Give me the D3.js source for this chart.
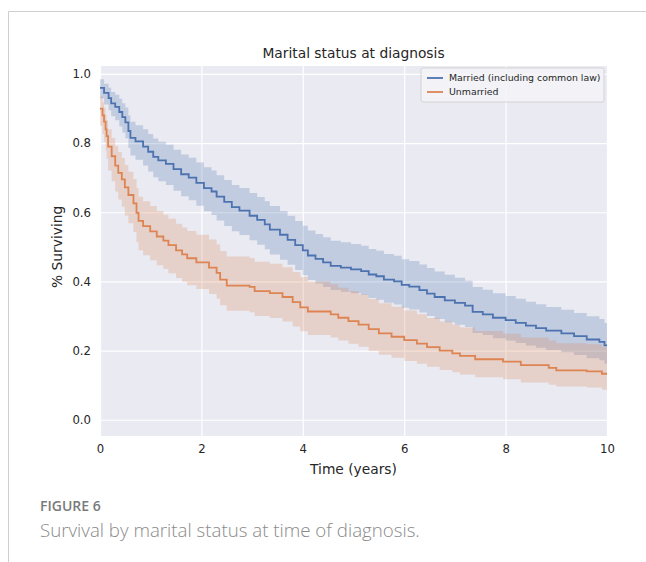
<!DOCTYPE html>
<html>
<head>
<meta charset="utf-8">
<script src="https://cdn.jsdelivr.net/npm/d3@7"></script>
<style>
  body { margin: 0; background: #fff; }
  svg { display: block; }
</style>
</head>
<body>
<div id="chart"></div>
<script>
// Kaplan-Meier step data
// =================================
var seriesNames = ["Married (including common law)", "Unmarried"];

var marriedTime = [0.00, 0.08, 0.17, 0.22, 0.30, 0.38, 0.44, 0.50, 0.56, 0.60, 0.70, 0.85, 0.95, 1.05, 1.15, 1.30, 1.45, 1.60, 1.75, 1.90,
  2.05, 2.20, 2.30, 2.45, 2.60, 2.75, 2.95, 3.10, 3.25, 3.35, 3.55, 3.70, 3.85, 4.00, 4.10, 4.25, 4.40, 4.55, 4.75, 4.95,
  5.15, 5.30, 5.45, 5.60, 5.80, 5.95, 6.10, 6.30, 6.45, 6.60, 6.80, 7.00, 7.20, 7.35, 7.55, 7.75, 8.00, 8.20, 8.40, 8.60,
  8.80, 9.10, 9.35, 9.60, 9.85, 9.95];
var marriedSurv = [0.960, 0.945, 0.930, 0.915, 0.905, 0.890, 0.875, 0.860, 0.835, 0.815, 0.805, 0.790, 0.775, 0.760, 0.750, 0.740, 0.725, 0.710, 0.700, 0.685,
  0.670, 0.660, 0.645, 0.630, 0.615, 0.605, 0.590, 0.578, 0.565, 0.550, 0.535, 0.520, 0.505, 0.490, 0.475, 0.465, 0.455, 0.445, 0.440, 0.435,
  0.430, 0.420, 0.415, 0.405, 0.400, 0.390, 0.385, 0.375, 0.365, 0.355, 0.345, 0.338, 0.330, 0.312, 0.305, 0.295, 0.288, 0.280, 0.272, 0.265,
  0.258, 0.250, 0.242, 0.232, 0.225, 0.215];
var marriedLow = [0.930, 0.912, 0.895, 0.878, 0.866, 0.848, 0.831, 0.814, 0.786, 0.764, 0.752, 0.735, 0.718, 0.701, 0.690, 0.679, 0.662, 0.646, 0.635, 0.619,
  0.603, 0.592, 0.576, 0.560, 0.545, 0.534, 0.519, 0.506, 0.493, 0.478, 0.463, 0.448, 0.433, 0.418, 0.404, 0.394, 0.384, 0.375, 0.370, 0.366,
  0.361, 0.352, 0.347, 0.338, 0.333, 0.324, 0.319, 0.310, 0.300, 0.291, 0.282, 0.275, 0.268, 0.251, 0.245, 0.236, 0.229, 0.222, 0.215, 0.208,
  0.202, 0.195, 0.187, 0.178, 0.172, 0.163];
var marriedHigh = [0.985, 0.972, 0.960, 0.948, 0.940, 0.928, 0.915, 0.903, 0.880, 0.862, 0.852, 0.840, 0.826, 0.813, 0.804, 0.795, 0.781, 0.767, 0.758, 0.744,
  0.730, 0.721, 0.707, 0.693, 0.679, 0.670, 0.656, 0.644, 0.632, 0.618, 0.604, 0.590, 0.575, 0.561, 0.547, 0.537, 0.528, 0.518, 0.513, 0.508,
  0.503, 0.494, 0.489, 0.479, 0.474, 0.464, 0.459, 0.449, 0.439, 0.429, 0.419, 0.411, 0.402, 0.384, 0.376, 0.366, 0.358, 0.350, 0.341, 0.334,
  0.326, 0.318, 0.309, 0.299, 0.291, 0.280];

var unmarriedTime = [0.00, 0.05, 0.08, 0.11, 0.13, 0.16, 0.23, 0.30, 0.36, 0.43, 0.49, 0.56, 0.66, 0.72, 0.76, 0.85, 0.99, 1.12, 1.25, 1.35,
  1.50, 1.62, 1.72, 1.90, 2.15, 2.30, 2.37, 2.50, 2.95, 3.05, 3.35, 3.60, 3.80, 3.95, 4.10, 4.55, 4.70, 4.90, 5.10, 5.30,
  5.50, 5.75, 6.00, 6.25, 6.45, 6.70, 6.95, 7.10, 7.40, 7.95, 8.30, 8.85, 9.00, 9.60, 9.90];
var unmarriedSurv = [0.900, 0.880, 0.862, 0.840, 0.820, 0.790, 0.762, 0.735, 0.714, 0.695, 0.672, 0.650, 0.626, 0.598, 0.575, 0.560, 0.545, 0.530, 0.518, 0.505,
  0.490, 0.478, 0.467, 0.455, 0.440, 0.425, 0.405, 0.388, 0.384, 0.372, 0.366, 0.355, 0.340, 0.325, 0.313, 0.305, 0.295, 0.285, 0.275, 0.262,
  0.250, 0.240, 0.230, 0.220, 0.210, 0.200, 0.192, 0.185, 0.175, 0.168, 0.158, 0.150, 0.143, 0.140, 0.133];
var unmarriedLow = [0.850, 0.826, 0.804, 0.778, 0.755, 0.721, 0.690, 0.660, 0.637, 0.616, 0.591, 0.568, 0.543, 0.513, 0.490, 0.476, 0.461, 0.447, 0.436, 0.424,
  0.410, 0.399, 0.389, 0.378, 0.364, 0.350, 0.331, 0.315, 0.311, 0.300, 0.294, 0.284, 0.270, 0.256, 0.245, 0.238, 0.229, 0.220, 0.211, 0.199,
  0.188, 0.179, 0.170, 0.162, 0.153, 0.144, 0.137, 0.131, 0.123, 0.117, 0.108, 0.101, 0.096, 0.093, 0.087];
var unmarriedHigh = [0.935, 0.918, 0.902, 0.883, 0.866, 0.840, 0.815, 0.792, 0.774, 0.757, 0.737, 0.717, 0.696, 0.670, 0.645, 0.632, 0.618, 0.604, 0.593, 0.581,
  0.567, 0.556, 0.546, 0.535, 0.521, 0.507, 0.488, 0.472, 0.468, 0.457, 0.451, 0.441, 0.427, 0.413, 0.400, 0.392, 0.382, 0.372, 0.362, 0.349,
  0.337, 0.327, 0.316, 0.305, 0.294, 0.284, 0.275, 0.267, 0.257, 0.249, 0.238, 0.229, 0.221, 0.218, 0.210];

var xTicks = [0, 2, 4, 6, 8, 10];
var yTicks = [0.0, 0.2, 0.4, 0.6, 0.8, 1.0];
var colors = ["#4c72b0", "#dd8452"];

var svgWidth = 646;
var svgHeight = 562;

var margin = { top: 66, left: 100 };
var width = 507;
var height = 370;

var svg = d3.select("#chart")
  .append("svg")
  .attr("width", svgWidth)
  .attr("height", svgHeight);

// card border (page frame)
svg.append("line")
  .attr("x1", 8.5).attr("x2", svgWidth).attr("y1", 11.5).attr("y2", 11.5)
  .attr("stroke", "#cfcfcf");
svg.append("line")
  .attr("x1", 8.5).attr("x2", 8.5).attr("y1", 11.5).attr("y2", svgHeight)
  .attr("stroke", "#cfcfcf");

var chartGroup = svg.append("g")
  .attr("transform", `translate(${margin.left}, ${margin.top})`);

// scales
var xScale = d3.scaleLinear().domain([0, 10]).range([0, width]);
var yScale = d3.scaleLinear().domain([-0.047, 1.023]).range([height, 0]);

// seaborn darkgrid background
chartGroup.append("rect")
  .attr("width", width)
  .attr("height", height)
  .attr("fill", "#eaeaf2");

var bottomAxis = d3.axisBottom(xScale).tickValues(xTicks).tickSize(height).tickFormat(d3.format("d"));
var leftAxis = d3.axisLeft(yScale).tickValues(yTicks).tickSize(width).tickFormat(d3.format(".1f"));

var xAxisG = chartGroup.append("g").call(bottomAxis);
var yAxisG = chartGroup.append("g").attr("transform", `translate(${width}, 0)`).call(leftAxis);

[xAxisG, yAxisG].forEach(function(g) {
  g.select(".domain").remove();
  g.selectAll(".tick line").attr("stroke", "#ffffff").attr("stroke-width", 1.2);
  g.selectAll(".tick text")
    .attr("fill", "#262626")
    .style("font-family", "DejaVu Sans")
    .style("font-size", "11.7px");
});
xAxisG.selectAll(".tick text").attr("y", height + 9);
yAxisG.selectAll(".tick text").attr("x", -width - 9);

// build step data
function makeSteps(time, surv, low, high) {
  var pts = time.map((t, i) => ({ t: t, s: surv[i], lo: low[i], hi: high[i] }));
  var last = pts[pts.length - 1];
  pts.push({ t: 10, s: last.s, lo: last.lo, hi: last.hi });
  return pts;
}

var groups = [
  makeSteps(marriedTime, marriedSurv, marriedLow, marriedHigh),
  makeSteps(unmarriedTime, unmarriedSurv, unmarriedLow, unmarriedHigh)
];

var band = d3.area()
  .x(d => xScale(d.t))
  .y0(d => yScale(d.lo))
  .y1(d => yScale(d.hi))
  .curve(d3.curveStepAfter);

var line = d3.line()
  .x(d => xScale(d.t))
  .y(d => yScale(d.s))
  .curve(d3.curveStepAfter);

groups.forEach(function(pts, i) {
  chartGroup.append("path")
    .attr("d", band(pts))
    .attr("fill", colors[i])
    .attr("opacity", 0.25);
});
groups.forEach(function(pts, i) {
  chartGroup.append("path")
    .attr("d", line(pts))
    .attr("fill", "none")
    .attr("stroke", colors[i])
    .attr("stroke-width", 1.8);
});

// legend
var legend = chartGroup.append("g").attr("transform", `translate(${width - 186}, 2)`);
legend.append("rect")
  .attr("width", 183).attr("height", 34).attr("rx", 2)
  .attr("fill", "#f4f4f8").attr("fill-opacity", 0.85)
  .attr("stroke", "#cccccc").attr("stroke-width", 0.8);
seriesNames.forEach(function(name, i) {
  var row = legend.append("g").attr("transform", `translate(6, ${10 + i * 14})`);
  row.append("line")
    .attr("x1", 0).attr("x2", 16).attr("y1", 0).attr("y2", 0)
    .attr("stroke", colors[i]).attr("stroke-width", 1.8);
  row.append("text")
    .attr("x", 22).attr("y", 3.4)
    .attr("fill", "#262626")
    .style("font-family", "DejaVu Sans")
    .style("font-size", "9.4px")
    .text(name);
});

// title and axis labels
svg.append("text")
  .attr("x", margin.left + width / 2).attr("y", 58)
  .attr("text-anchor", "middle")
  .attr("fill", "#262626")
  .style("font-family", "DejaVu Sans")
  .style("font-size", "13.8px")
  .text("Marital status at diagnosis");

svg.append("text")
  .attr("x", margin.left + width / 2).attr("y", 474)
  .attr("text-anchor", "middle")
  .attr("fill", "#262626")
  .style("font-family", "DejaVu Sans")
  .style("font-size", "13.8px")
  .text("Time (years)");

svg.append("text")
  .attr("transform", `translate(62, ${margin.top + yScale(0.5)}) rotate(-90)`)
  .attr("text-anchor", "middle")
  .attr("fill", "#262626")
  .style("font-family", "DejaVu Sans")
  .style("font-size", "13.8px")
  .text("% Surviving");

// caption
svg.append("text")
  .attr("x", 40).attr("y", 511)
  .attr("fill", "#7a7a7a")
  .style("font-family", "Open Sans")
  .style("font-weight", 600)
  .style("font-size", "14px")
  .text("FIGURE 6");

svg.append("text")
  .attr("x", 40).attr("y", 537)
  .attr("fill", "#8a8a8a")
  .style("font-family", "Open Sans")
  .style("font-weight", 300)
  .style("font-size", "18.7px")
  .text("Survival by marital status at time of diagnosis.");
</script>
</body>
</html>
